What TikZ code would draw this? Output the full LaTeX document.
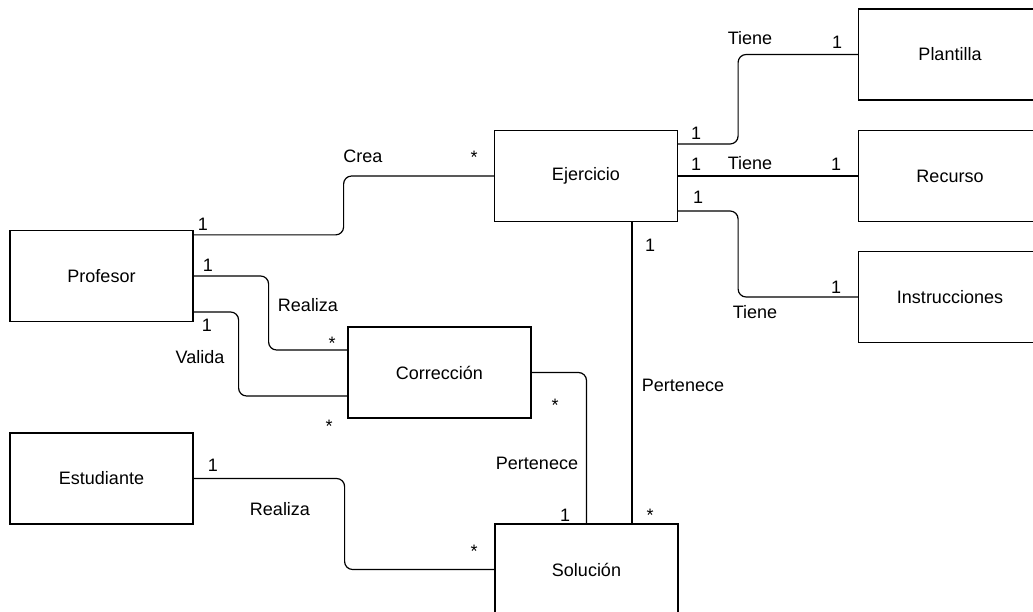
\documentclass[tikz,border=0pt]{standalone}
\usepackage{fontspec}
\setmainfont{Liberation Sans}
\usetikzlibrary{calc}

\begin{document}
\begin{tikzpicture}[x=1pt, y=-1pt,
	entity/.style={draw, line width=1.2pt, minimum width=183pt, minimum height=91pt, inner sep=0pt, font=\fontsize{18}{20}\selectfont},
	link/.style={line width=1.2pt, rounded corners=8pt},
	lbl/.style={inner sep=0pt, text height=12.9pt, text depth=0pt, font=\fontsize{18}{20}\selectfont},
	many/.style={lbl, yshift=-4pt}]
	%
	\useasboundingbox (0,0) rectangle (1033,612);
	%
	\node [entity] (profesor) at (101.5,276) {Profesor};
	\node [entity] (estudiante) at (101.5,478.5) {Estudiante};
	\node [entity] (ejercicio) at (586,176) {Ejercicio};
	\node [entity] (correccion) at (439.5,372.5) {Corrección};
	\node [entity] (solucion) at (586.5,569.5) {Solución};
	\node [entity] (plantilla) at (950,54.5) {Plantilla};
	\node [entity] (recurso) at (950,176) {Recurso};
	\node [entity] (instrucciones) at (950,297) {Instrucciones};
	%
	\draw [link] ([yshift=-5pt]profesor.north east) -- ++(150,0) |- (ejercicio.west);
	\draw [link] (profesor.east) -- ++(75,0) |- ([yshift=22.5pt]correccion.west);
	\draw [link] ([yshift=-36pt]profesor.east) -- ++(45,0) |- ([yshift=-23.5pt]correccion.west);
	\draw [link] (estudiante.east) -- ++(151,0) |- (solucion.west);
	\draw [link] (correccion.east) -| (solucion.north);
	\draw [link] ([xshift=46pt]ejercicio.south) -- ([xshift=45.5pt]solucion.north);
	\draw [link] ([yshift=32pt]ejercicio.east) -- ++(60,0) |- (plantilla.west);
	\draw [link] (ejercicio.east) -- (recurso.west);
	\draw [link] ([yshift=-35pt]ejercicio.east) -- ++(60,0) |- (instrucciones.west);
	%
	\node [lbl] (creaP) at (203,224) {1};
	\node [lbl] (crea) at (363,156) {Crea};
	\node [many] (creaE) at (474,153) {*};
	\node [lbl] (realizaP) at (208,265) {1};
	\node [lbl] (realiza) at (308,305) {Realiza};
	\node [many] (realizaC) at (332,339) {*};
	\node [lbl] (validaP) at (207,325) {1};
	\node [lbl] (valida) at (200,357) {Valida};
	\node [many] (validaC) at (329,422) {*};
	\node [many] (perteneceC) at (555,401) {*};
	\node [lbl] (perteneceSc) at (565,515) {1};
	\node [lbl] (pertenece) at (537,463) {Pertenece};
	\node [lbl] (realizaE) at (213,465) {1};
	\node [lbl] (realizaB) at (280,509) {Realiza};
	\node [many] (realizaS) at (474,547) {*};
	\node [lbl] (perteneceEj) at (650,245) {1};
	\node [lbl] (perteneceB) at (683,385) {Pertenece};
	\node [many] (perteneceS) at (650,511) {*};
	%
	\node [lbl] (tieneE1) at (696,133) {1};
	\node [lbl] (tiene1) at (750,38) {Tiene};
	\node [lbl] (tieneP) at (837,42) {1};
	\node [lbl] (tieneE2) at (696,164) {1};
	\node [lbl] (tiene2) at (750,163) {Tiene};
	\node [lbl] (tieneR) at (836,164) {1};
	\node [lbl] (tieneE3) at (698,197) {1};
	\node [lbl] (tiene3) at (755,312) {Tiene};
	\node [lbl] (tieneI) at (836,287) {1};
\end{tikzpicture}
\end{document}
